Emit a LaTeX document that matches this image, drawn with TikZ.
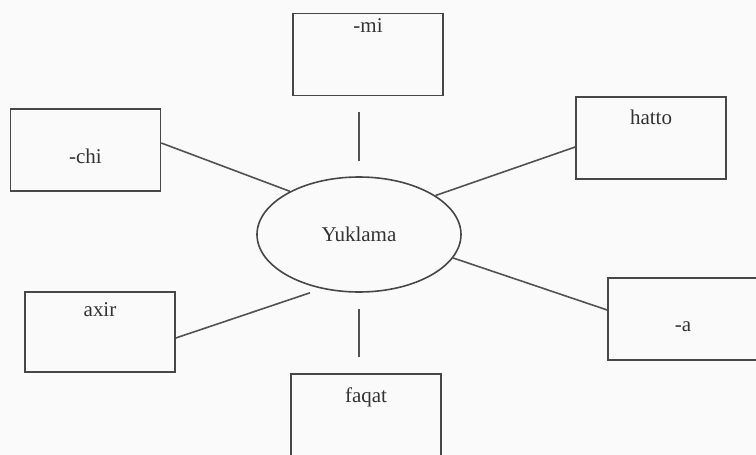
\documentclass[tikz,border=0pt]{standalone}
\usepackage{fontspec}
\setmainfont{Liberation Serif}
\usetikzlibrary{shapes.geometric}

\begin{document}
\begin{tikzpicture}[x=1pt, y=-1pt,
    box/.style={rectangle, draw=black!72, line width=1.6pt, minimum width=150pt, minimum height=82pt, inner sep=0pt},
    core/.style={ellipse, draw=black!72, line width=1.6pt, minimum width=204pt, minimum height=115pt, inner sep=0pt, font=\fontsize{21}{24}\selectfont, text=black!80},
    word/.style={anchor=base, font=\fontsize{21}{24}\selectfont, text=black!80},
    link/.style={draw=black!68, line width=1.6pt}
]
    \fill[black!2] (0,0) rectangle (756,455);
    \useasboundingbox (0,0) rectangle (756,455);
    \node[core] (yk) at (359,234.5) {Yuklama};
    \node[box, label={[word, yshift=-20pt]90:-mi}] (mi) at (368,54.5) {};
    \node[box, label={[word, yshift=-55pt]90:-chi}] (chi) at (85.5,150) {};
    \node[box, label={[word, yshift=-28pt]90:hatto}] (hatto) at (651,138) {};
    \node[box, minimum height=80pt, label={[word, yshift=-25pt]90:axir}] (axir) at (100,332) {};
    \node[box, label={[word, yshift=-54pt]90:-a}] (aa) at (683,319) {};
    \node[box, label={[word, yshift=-29pt]90:faqat}] (faqat) at (366,415) {};
    \draw[link, shorten <=16pt, shorten >=15pt] (yk.north |- mi.south) -- (yk.north);
    \draw[link] ([yshift=7pt]chi.east) -- (yk.148);
    \draw[link] (yk.27) -- ([yshift=-9pt]hatto.west);
    \draw[link] ([yshift=-6pt]axir.east) -- ([xshift=-49pt]yk.south);
    \draw[link] (yk.-14) -- ([yshift=9pt]aa.west);
    \draw[link, shorten <=16pt, shorten >=16pt] (yk.south) -- (yk.south |- faqat.north);
\end{tikzpicture}
\end{document}
